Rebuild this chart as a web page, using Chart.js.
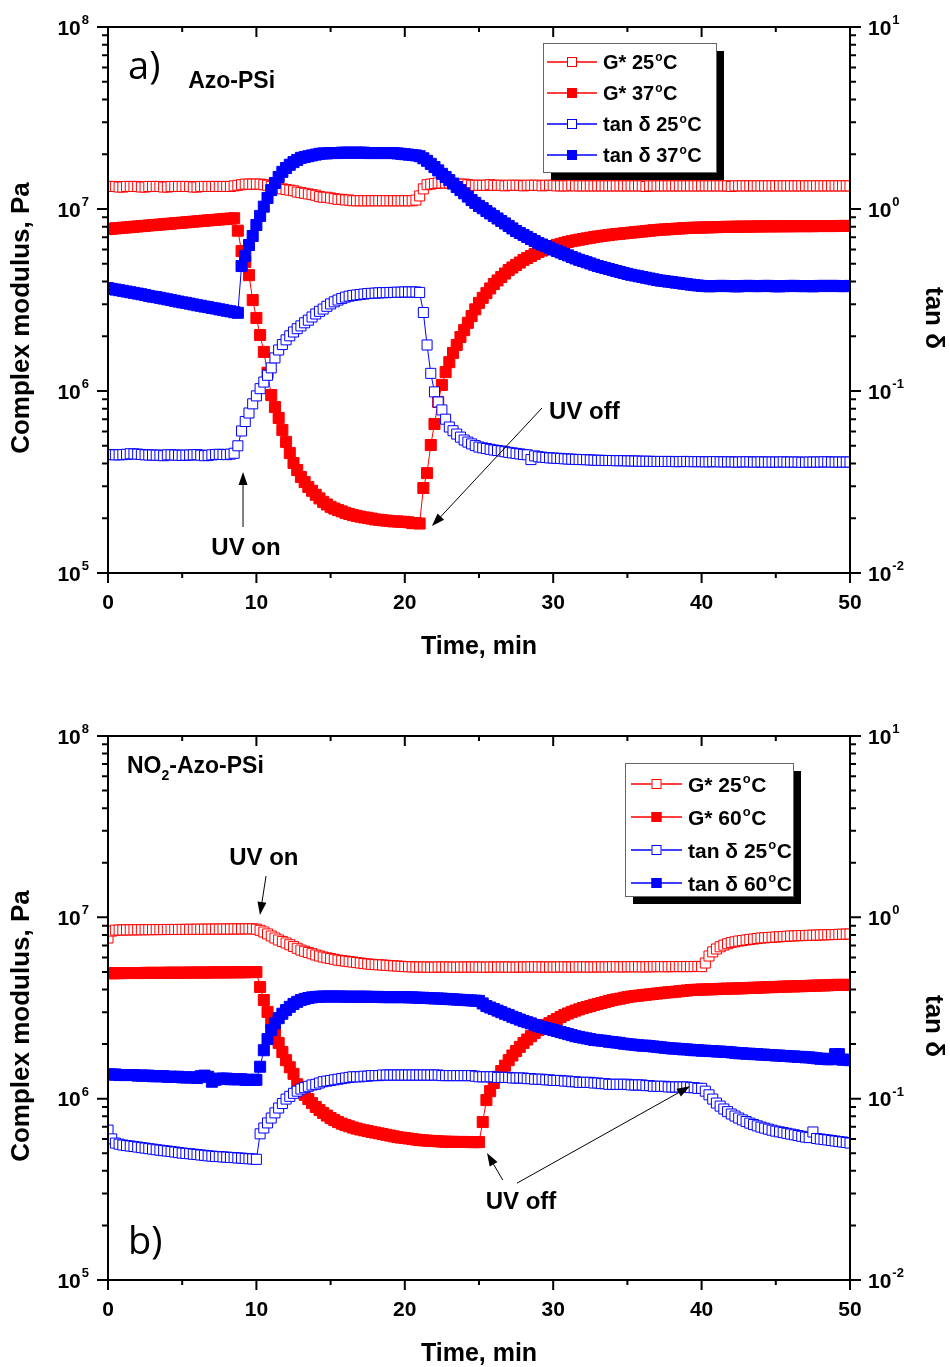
<!DOCTYPE html>
<html>
<head>
<meta charset="utf-8">
<script src="https://cdn.jsdelivr.net/npm/chart.js@4.4.1/dist/chart.umd.min.js"></script>
<style>
  body { margin: 0; background: #fff; }
  .panel { position: absolute; left: 0; width: 950px; }
</style>
</head>
<body>
<div class="panel" style="top:0;height:683px"><canvas id="chartA" width="950" height="683"></canvas></div>
<div class="panel" style="top:683px;height:684px"><canvas id="chartB" width="950" height="684"></canvas></div>
<script>
// time axis, min (one sample every 15 s, 20 per row)
const TIME = [
  0,0.25,0.5,0.75,1,1.25,1.5,1.75,2,2.25,2.5,2.75,3,3.25,3.5,3.75,4,4.25,4.5,4.75,
  5,5.25,5.5,5.75,6,6.25,6.5,6.75,7,7.25,7.5,7.75,8,8.25,8.5,8.75,9,9.25,9.5,9.75,
  10,10.25,10.5,10.75,11,11.25,11.5,11.75,12,12.25,12.5,12.75,13,13.25,13.5,13.75,14,14.25,14.5,14.75,
  15,15.25,15.5,15.75,16,16.25,16.5,16.75,17,17.25,17.5,17.75,18,18.25,18.5,18.75,19,19.25,19.5,19.75,
  20,20.25,20.5,20.75,21,21.25,21.5,21.75,22,22.25,22.5,22.75,23,23.25,23.5,23.75,24,24.25,24.5,24.75,
  25,25.25,25.5,25.75,26,26.25,26.5,26.75,27,27.25,27.5,27.75,28,28.25,28.5,28.75,29,29.25,29.5,29.75,
  30,30.25,30.5,30.75,31,31.25,31.5,31.75,32,32.25,32.5,32.75,33,33.25,33.5,33.75,34,34.25,34.5,34.75,
  35,35.25,35.5,35.75,36,36.25,36.5,36.75,37,37.25,37.5,37.75,38,38.25,38.5,38.75,39,39.25,39.5,39.75,
  40,40.25,40.5,40.75,41,41.25,41.5,41.75,42,42.25,42.5,42.75,43,43.25,43.5,43.75,44,44.25,44.5,44.75,
  45,45.25,45.5,45.75,46,46.25,46.5,46.75,47,47.25,47.5,47.75,48,48.25,48.5,48.75,49,49.25,49.5,49.75,
  50
];

// a) Azo-PSi, complex modulus (Pa)
const A_G25 = [
  1.33e7,1.33e7,1.33e7,1.32e7,1.32e7,1.33e7,1.33e7,1.33e7,1.33e7,1.32e7,1.32e7,1.33e7,1.33e7,1.33e7,1.33e7,1.32e7,1.32e7,1.33e7,1.33e7,1.33e7,
  1.33e7,1.33e7,1.33e7,1.32e7,1.32e7,1.33e7,1.33e7,1.33e7,1.33e7,1.33e7,1.33e7,1.33e7,1.33e7,1.33e7,1.34e7,1.35e7,1.36e7,1.37e7,1.37e7,1.37e7,
  1.37e7,1.37e7,1.36e7,1.35e7,1.33e7,1.32e7,1.30e7,1.29e7,1.28e7,1.27e7,1.26e7,1.24e7,1.23e7,1.22e7,1.21e7,1.20e7,1.19e7,1.17e7,1.16e7,1.16e7,
  1.15e7,1.14e7,1.13e7,1.13e7,1.12e7,1.12e7,1.11e7,1.11e7,1.11e7,1.11e7,1.11e7,1.11e7,1.11e7,1.11e7,1.11e7,1.11e7,1.11e7,1.11e7,1.11e7,1.11e7,
  1.11e7,1.11e7,1.11e7,1.12e7,1.18e7,1.29e7,1.36e7,1.37e7,1.38e7,1.39e7,1.39e7,1.39e7,1.39e7,1.38e7,1.37e7,1.37e7,1.37e7,1.36e7,1.35e7,1.35e7,
  1.35e7,1.35e7,1.35e7,1.36e7,1.35e7,1.35e7,1.35e7,1.34e7,1.35e7,1.35e7,1.35e7,1.35e7,1.34e7,1.35e7,1.35e7,1.35e7,1.35e7,1.34e7,1.35e7,1.35e7,
  1.35e7,1.34e7,1.34e7,1.34e7,1.34e7,1.35e7,1.34e7,1.34e7,1.34e7,1.34e7,1.34e7,1.34e7,1.34e7,1.34e7,1.34e7,1.34e7,1.34e7,1.34e7,1.34e7,1.34e7,
  1.34e7,1.34e7,1.34e7,1.34e7,1.34e7,1.33e7,1.34e7,1.34e7,1.34e7,1.34e7,1.34e7,1.34e7,1.34e7,1.34e7,1.34e7,1.34e7,1.34e7,1.34e7,1.34e7,1.34e7,
  1.34e7,1.34e7,1.34e7,1.34e7,1.34e7,1.34e7,1.34e7,1.34e7,1.33e7,1.34e7,1.34e7,1.34e7,1.34e7,1.34e7,1.34e7,1.34e7,1.34e7,1.34e7,1.34e7,1.34e7,
  1.34e7,1.34e7,1.34e7,1.34e7,1.34e7,1.34e7,1.34e7,1.34e7,1.34e7,1.34e7,1.34e7,1.34e7,1.34e7,1.34e7,1.34e7,1.34e7,1.34e7,1.34e7,1.34e7,1.34e7,
  1.34e7
];
const A_G37 = [
  7.76e6,7.79e6,7.83e6,7.86e6,7.89e6,7.92e6,7.95e6,7.99e6,8.02e6,8.05e6,8.08e6,8.12e6,8.15e6,8.18e6,8.21e6,8.25e6,8.28e6,8.31e6,8.35e6,8.38e6,
  8.41e6,8.45e6,8.48e6,8.52e6,8.55e6,8.59e6,8.62e6,8.66e6,8.69e6,8.72e6,8.76e6,8.79e6,8.83e6,8.86e6,8.90e6,7.60e6,5.87e6,5.12e6,4.33e6,3.16e6,
  2.52e6,2.03e6,1.64e6,1.26e6,9.5e5,8.17e5,7.11e5,6.11e5,5.25e5,4.56e5,4.02e5,3.68e5,3.37e5,3.16e5,2.97e5,2.83e5,2.69e5,2.57e5,2.46e5,2.38e5,
  2.31e5,2.26e5,2.22e5,2.18e5,2.14e5,2.11e5,2.08e5,2.06e5,2.04e5,2.02e5,2.01e5,1.99e5,1.97e5,1.96e5,1.95e5,1.94e5,1.93e5,1.92e5,1.92e5,1.91e5,
  1.91e5,1.90e5,1.88e5,1.88e5,1.87e5,2.93e5,3.54e5,5.05e5,6.59e5,8.71e5,1.08e6,1.27e6,1.44e6,1.62e6,1.79e6,1.98e6,2.16e6,2.37e6,2.58e6,2.81e6,
  3.05e6,3.25e6,3.45e6,3.66e6,3.87e6,4.05e6,4.23e6,4.42e6,4.62e6,4.77e6,4.92e6,5.08e6,5.25e6,5.38e6,5.52e6,5.66e6,5.80e6,5.91e6,6.03e6,6.14e6,
  6.26e6,6.35e6,6.43e6,6.51e6,6.59e6,6.66e6,6.72e6,6.78e6,6.84e6,6.90e6,6.95e6,7.01e6,7.06e6,7.11e6,7.15e6,7.20e6,7.24e6,7.28e6,7.31e6,7.35e6,
  7.38e6,7.42e6,7.45e6,7.49e6,7.52e6,7.56e6,7.60e6,7.64e6,7.67e6,7.70e6,7.72e6,7.74e6,7.76e6,7.79e6,7.81e6,7.84e6,7.86e6,7.88e6,7.89e6,7.90e6,
  7.91e6,7.92e6,7.93e6,7.94e6,7.95e6,7.96e6,7.97e6,7.98e6,7.98e6,7.99e6,8.00e6,8.00e6,8.00e6,8.01e6,8.01e6,8.02e6,8.02e6,8.03e6,8.03e6,8.03e6,
  8.03e6,8.04e6,8.04e6,8.04e6,8.04e6,8.05e6,8.05e6,8.05e6,8.05e6,8.05e6,8.05e6,8.06e6,8.06e6,8.06e6,8.06e6,8.06e6,8.06e6,8.07e6,8.07e6,8.07e6,
  8.07e6
];
// a) tan delta
const A_T25 = [
  0.0448,0.0447,0.0446,0.0446,0.0447,0.0449,0.0452,0.0451,0.0450,0.0448,0.0446,0.0445,0.0445,0.0444,0.0444,0.0441,0.0446,0.0446,0.0445,0.0444,
  0.0443,0.0444,0.0445,0.0446,0.0447,0.0444,0.0441,0.0443,0.0446,0.0448,0.0449,0.0448,0.0447,0.0450,0.0455,0.0500,0.0603,0.0680,0.0757,0.0850,
  0.094,0.103,0.112,0.122,0.134,0.152,0.168,0.180,0.191,0.201,0.211,0.220,0.228,0.237,0.245,0.255,0.265,0.274,0.282,0.292,
  0.301,0.309,0.316,0.322,0.328,0.332,0.335,0.337,0.339,0.341,0.343,0.344,0.345,0.346,0.347,0.347,0.348,0.348,0.349,0.349,
  0.350,0.350,0.350,0.350,0.348,0.270,0.179,0.125,0.0989,0.0870,0.0787,0.0700,0.0634,0.0605,0.0580,0.0558,0.0538,0.0524,0.0512,0.0501,
  0.0492,0.0487,0.0483,0.0478,0.0474,0.0471,0.0468,0.0464,0.0460,0.0457,0.0454,0.0451,0.0448,0.0446,0.0420,0.0440,0.0435,0.0433,0.0431,0.0429,
  0.0428,0.0427,0.0426,0.0424,0.0423,0.0422,0.0421,0.0420,0.0420,0.0419,0.0418,0.0417,0.0416,0.0416,0.0415,0.0415,0.0415,0.0414,0.0414,0.0414,
  0.0413,0.0413,0.0412,0.0412,0.0411,0.0411,0.0411,0.0410,0.0410,0.0410,0.0410,0.0410,0.0410,0.0409,0.0409,0.0410,0.0410,0.0409,0.0409,0.0409,
  0.0409,0.0408,0.0408,0.0409,0.0409,0.0408,0.0408,0.0408,0.0408,0.0407,0.0407,0.0408,0.0408,0.0408,0.0407,0.0407,0.0408,0.0407,0.0407,0.0407,
  0.0407,0.0407,0.0408,0.0407,0.0407,0.0407,0.0407,0.0406,0.0406,0.0407,0.0407,0.0407,0.0407,0.0408,0.0408,0.0407,0.0407,0.0407,0.0407,0.0407,
  0.0407
];
const A_T37 = [
  0.368,0.364,0.361,0.358,0.355,0.352,0.349,0.346,0.343,0.340,0.337,0.333,0.330,0.328,0.325,0.322,0.319,0.316,0.313,0.310,
  0.307,0.305,0.302,0.299,0.296,0.294,0.291,0.289,0.286,0.284,0.281,0.279,0.276,0.274,0.271,0.269,0.486,0.552,0.634,0.711,
  0.817,0.916,1.03,1.15,1.27,1.39,1.50,1.60,1.68,1.75,1.81,1.86,1.91,1.93,1.95,1.97,1.99,2.01,2.02,2.02,
  2.03,2.03,2.03,2.04,2.04,2.04,2.04,2.04,2.04,2.04,2.03,2.03,2.03,2.03,2.03,2.03,2.03,2.03,2.02,2.01,
  2.00,1.99,1.98,1.97,1.95,1.90,1.84,1.77,1.70,1.63,1.56,1.50,1.44,1.38,1.32,1.27,1.22,1.17,1.12,1.08,
  1.04,1.01,0.975,0.945,0.916,0.887,0.859,0.833,0.807,0.782,0.757,0.738,0.720,0.702,0.684,0.667,0.650,0.638,0.626,0.612,
  0.599,0.588,0.577,0.566,0.556,0.545,0.535,0.526,0.518,0.510,0.502,0.494,0.486,0.480,0.474,0.468,0.462,0.456,0.451,0.445,
  0.440,0.435,0.431,0.427,0.423,0.419,0.415,0.411,0.407,0.404,0.402,0.399,0.397,0.394,0.392,0.389,0.387,0.384,0.382,0.380,
  0.378,0.377,0.376,0.377,0.377,0.378,0.378,0.377,0.377,0.376,0.376,0.377,0.378,0.378,0.377,0.377,0.377,0.378,0.378,0.377,
  0.376,0.376,0.377,0.377,0.378,0.378,0.377,0.377,0.377,0.377,0.376,0.377,0.378,0.378,0.377,0.378,0.378,0.377,0.377,0.377,
  0.378
];

// b) NO2-Azo-PSi, complex modulus (Pa)
const B_G25 = [
  7.69e6,8.40e6,8.50e6,8.51e6,8.52e6,8.52e6,8.53e6,8.53e6,8.54e6,8.54e6,8.55e6,8.55e6,8.55e6,8.56e6,8.56e6,8.56e6,8.57e6,8.57e6,8.57e6,8.57e6,
  8.58e6,8.58e6,8.59e6,8.59e6,8.59e6,8.60e6,8.60e6,8.60e6,8.61e6,8.61e6,8.61e6,8.62e6,8.62e6,8.62e6,8.63e6,8.63e6,8.63e6,8.64e6,8.64e6,8.64e6,
  8.60e6,8.48e6,8.30e6,8.10e6,7.89e6,7.69e6,7.50e6,7.36e6,7.22e6,7.06e6,6.91e6,6.75e6,6.60e6,6.50e6,6.40e6,6.30e6,6.20e6,6.12e6,6.04e6,5.98e6,
  5.93e6,5.87e6,5.81e6,5.77e6,5.74e6,5.70e6,5.67e6,5.63e6,5.60e6,5.56e6,5.53e6,5.51e6,5.49e6,5.47e6,5.46e6,5.44e6,5.42e6,5.40e6,5.39e6,5.37e6,
  5.35e6,5.34e6,5.33e6,5.32e6,5.32e6,5.32e6,5.32e6,5.31e6,5.31e6,5.32e6,5.32e6,5.32e6,5.32e6,5.31e6,5.31e6,5.32e6,5.32e6,5.32e6,5.32e6,5.32e6,
  5.32e6,5.31e6,5.31e6,5.32e6,5.32e6,5.32e6,5.32e6,5.32e6,5.32e6,5.31e6,5.31e6,5.32e6,5.32e6,5.32e6,5.33e6,5.33e6,5.33e6,5.32e6,5.32e6,5.32e6,
  5.32e6,5.32e6,5.33e6,5.33e6,5.32e6,5.32e6,5.33e6,5.33e6,5.33e6,5.33e6,5.32e6,5.32e6,5.33e6,5.33e6,5.33e6,5.33e6,5.34e6,5.34e6,5.33e6,5.33e6,
  5.34e6,5.34e6,5.34e6,5.34e6,5.33e6,5.33e6,5.34e6,5.34e6,5.35e6,5.35e6,5.34e6,5.34e6,5.35e6,5.35e6,5.35e6,5.35e6,5.35e6,5.35e6,5.36e6,5.36e6,
  5.35e6,5.60e6,6.12e6,6.45e6,6.69e6,6.88e6,7.03e6,7.15e6,7.26e6,7.33e6,7.40e6,7.45e6,7.50e6,7.55e6,7.59e6,7.64e6,7.69e6,7.71e6,7.74e6,7.76e6,
  7.79e6,7.81e6,7.84e6,7.86e6,7.89e6,7.90e6,7.92e6,7.93e6,7.94e6,7.96e6,7.97e6,7.98e6,7.99e6,8.01e6,8.02e6,8.03e6,8.04e6,8.06e6,8.07e6,8.08e6,
  8.09e6
];
const B_G60 = [
  4.92e6,4.92e6,4.92e6,4.92e6,4.93e6,4.93e6,4.93e6,4.93e6,4.93e6,4.93e6,4.94e6,4.94e6,4.94e6,4.94e6,4.94e6,4.94e6,4.95e6,4.95e6,4.95e6,4.95e6,
  4.95e6,4.95e6,4.96e6,4.96e6,4.96e6,4.96e6,4.96e6,4.96e6,4.97e6,4.97e6,4.97e6,4.97e6,4.97e6,4.97e6,4.98e6,4.98e6,4.98e6,4.98e6,4.99e6,4.99e6,
  4.99e6,4.13e6,3.50e6,3.01e6,2.61e6,2.30e6,2.03e6,1.81e6,1.63e6,1.49e6,1.37e6,1.20e6,1.10e6,1.05e6,9.95e5,9.45e5,9.00e5,8.65e5,8.34e5,8.07e5,
  7.82e5,7.62e5,7.43e5,7.28e5,7.15e5,7.04e5,6.93e5,6.84e5,6.76e5,6.69e5,6.63e5,6.56e5,6.50e5,6.44e5,6.38e5,6.32e5,6.26e5,6.20e5,6.14e5,6.10e5,
  6.07e5,6.03e5,5.99e5,5.95e5,5.91e5,5.89e5,5.87e5,5.85e5,5.84e5,5.82e5,5.80e5,5.79e5,5.78e5,5.78e5,5.77e5,5.77e5,5.77e5,5.77e5,5.76e5,5.76e5,
  5.76e5,7.43e5,9.82e5,1.10e6,1.22e6,1.32e6,1.42e6,1.52e6,1.63e6,1.73e6,1.83e6,1.93e6,2.03e6,2.12e6,2.21e6,2.30e6,2.39e6,2.47e6,2.55e6,2.61e6,
  2.68e6,2.75e6,2.82e6,2.89e6,2.95e6,3.01e6,3.06e6,3.11e6,3.16e6,3.20e6,3.24e6,3.29e6,3.33e6,3.37e6,3.41e6,3.46e6,3.50e6,3.53e6,3.56e6,3.60e6,
  3.63e6,3.66e6,3.68e6,3.70e6,3.72e6,3.74e6,3.76e6,3.78e6,3.80e6,3.82e6,3.84e6,3.86e6,3.87e6,3.89e6,3.91e6,3.93e6,3.95e6,3.97e6,3.98e6,3.99e6,
  4.00e6,4.00e6,4.01e6,4.01e6,4.02e6,4.03e6,4.04e6,4.04e6,4.05e6,4.05e6,4.06e6,4.06e6,4.07e6,4.08e6,4.09e6,4.09e6,4.10e6,4.11e6,4.12e6,4.12e6,
  4.13e6,4.14e6,4.15e6,4.15e6,4.16e6,4.16e6,4.17e6,4.17e6,4.18e6,4.19e6,4.20e6,4.20e6,4.21e6,4.21e6,4.22e6,4.23e6,4.24e6,4.24e6,4.24e6,4.24e6,
  4.24e6
];
// b) tan delta
const B_T25 = [
  0.0671,0.0600,0.0569,0.0561,0.0555,0.0551,0.0548,0.0545,0.0541,0.0537,0.0534,0.0530,0.0527,0.0523,0.0520,0.0517,0.0514,0.0511,0.0508,0.0504,
  0.0501,0.0499,0.0497,0.0494,0.0492,0.0489,0.0487,0.0484,0.0482,0.0480,0.0479,0.0477,0.0476,0.0474,0.0473,0.0471,0.0470,0.0468,0.0466,0.0465,
  0.0463,0.0640,0.0689,0.0735,0.0782,0.0835,0.0888,0.0940,0.0995,0.103,0.107,0.110,0.113,0.115,0.117,0.119,0.120,0.122,0.124,0.125,
  0.126,0.127,0.128,0.129,0.130,0.131,0.132,0.132,0.132,0.133,0.133,0.134,0.134,0.134,0.135,0.135,0.135,0.135,0.135,0.135,
  0.135,0.135,0.135,0.135,0.135,0.135,0.135,0.135,0.135,0.135,0.134,0.134,0.134,0.134,0.134,0.134,0.134,0.134,0.134,0.133,
  0.132,0.132,0.132,0.132,0.132,0.131,0.131,0.131,0.131,0.130,0.130,0.130,0.130,0.129,0.129,0.128,0.128,0.128,0.127,0.127,
  0.126,0.126,0.126,0.125,0.125,0.124,0.124,0.123,0.123,0.123,0.123,0.122,0.122,0.121,0.121,0.120,0.120,0.120,0.120,0.120,
  0.120,0.119,0.119,0.119,0.119,0.118,0.118,0.117,0.117,0.117,0.117,0.116,0.116,0.116,0.116,0.116,0.116,0.115,0.115,0.114,
  0.114,0.110,0.105,0.0995,0.0946,0.0910,0.0877,0.0848,0.0823,0.0802,0.0782,0.0764,0.0748,0.0733,0.0720,0.0708,0.0697,0.0688,0.0679,0.0670,
  0.0662,0.0656,0.0650,0.0644,0.0638,0.0632,0.0626,0.0620,0.0614,0.0610,0.0655,0.0603,0.0599,0.0595,0.0592,0.0588,0.0584,0.0580,0.0577,0.0573,
  0.0569
];
const B_T60 = [
  0.136,0.136,0.136,0.135,0.135,0.135,0.135,0.135,0.134,0.134,0.134,0.134,0.133,0.133,0.133,0.133,0.132,0.132,0.132,0.132,
  0.131,0.131,0.131,0.131,0.130,0.133,0.134,0.132,0.124,0.127,0.129,0.129,0.129,0.128,0.128,0.128,0.128,0.127,0.127,0.127,
  0.127,0.150,0.185,0.213,0.239,0.260,0.278,0.294,0.308,0.321,0.333,0.342,0.350,0.355,0.359,0.362,0.364,0.365,0.366,0.366,
  0.366,0.366,0.366,0.366,0.365,0.365,0.365,0.365,0.365,0.365,0.365,0.364,0.364,0.364,0.363,0.363,0.363,0.363,0.363,0.363,
  0.363,0.362,0.362,0.361,0.360,0.360,0.359,0.358,0.357,0.357,0.356,0.355,0.354,0.353,0.352,0.351,0.350,0.349,0.348,0.347,
  0.346,0.335,0.324,0.318,0.312,0.306,0.300,0.294,0.289,0.283,0.278,0.273,0.268,0.264,0.260,0.255,0.251,0.248,0.245,0.242,
  0.239,0.236,0.233,0.230,0.227,0.224,0.221,0.219,0.217,0.215,0.213,0.211,0.210,0.209,0.208,0.206,0.205,0.204,0.203,0.201,
  0.200,0.199,0.198,0.197,0.196,0.196,0.195,0.194,0.193,0.192,0.191,0.190,0.189,0.189,0.188,0.187,0.187,0.186,0.185,0.185,
  0.184,0.184,0.183,0.183,0.182,0.182,0.181,0.181,0.180,0.179,0.178,0.178,0.177,0.177,0.176,0.176,0.175,0.175,0.174,0.174,
  0.173,0.173,0.172,0.172,0.171,0.171,0.170,0.170,0.169,0.169,0.168,0.167,0.166,0.166,0.165,0.165,0.176,0.176,0.164,0.164,
  0.163
];

// axis ticks
const X_MAJOR = [0, 10, 20, 30, 40, 50];
const X_MINOR = [5, 15, 25, 35, 45];
const G_DECADES = [5, 6, 7, 8];     // left axis, 10^n Pa
const T_DECADES = [-2, -1, 0, 1];   // right axis, 10^n

const RED = '#ff0000';
const BLUE = '#0000ff';
const FONT = '"Liberation Sans", Arial, Helvetica, sans-serif';

function drawPow(ctx, x, y, exp, alignRight) {
  ctx.font = 'bold 21px ' + FONT;
  const w1 = ctx.measureText('10').width;
  ctx.font = 'bold 13px ' + FONT;
  const w2 = ctx.measureText(exp).width;
  const x0 = alignRight ? x - (w1 + w2 + 1) : x;
  ctx.textAlign = 'left';
  ctx.textBaseline = 'alphabetic';
  ctx.font = 'bold 21px ' + FONT;
  ctx.fillText('10', x0, y + 7.5);
  ctx.font = 'bold 13px ' + FONT;
  ctx.fillText(exp, x0 + w1 + 1, y - 3);
}

function drawDegLabel(ctx, text, x, y, size) {
  const parts = text.split('°');
  ctx.textAlign = 'left';
  ctx.textBaseline = 'alphabetic';
  const base = y + size * 0.36;
  ctx.font = 'bold ' + size + 'px ' + FONT;
  ctx.fillText(parts[0], x, base);
  let cx = x + ctx.measureText(parts[0]).width + 1;
  ctx.font = 'bold ' + Math.round(size * 0.62) + 'px ' + FONT;
  ctx.fillText('o', cx, base - size * 0.43);
  cx += ctx.measureText('o').width + 0.5;
  ctx.font = 'bold ' + size + 'px ' + FONT;
  ctx.fillText(parts[1], cx, base);
}

function arrow(ctx, x1, y1, x2, y2) {
  const ang = Math.atan2(y2 - y1, x2 - x1);
  const L = 13, W = 4.5;
  const c = Math.cos(ang), s = Math.sin(ang);
  ctx.beginPath();
  ctx.moveTo(x1, y1);
  ctx.lineTo(x2 - L * 0.8 * c, y2 - L * 0.8 * s);
  ctx.stroke();
  ctx.beginPath();
  ctx.moveTo(x2, y2);
  ctx.lineTo(x2 - L * c + W * s, y2 - L * s - W * c);
  ctx.lineTo(x2 - L * c - W * s, y2 - L * s + W * c);
  ctx.closePath();
  ctx.fill();
}

function framePlugin(cfg) {
  return {
    id: 'originFrame',
    afterDraw(chart) {
      const { ctx, chartArea: a, scales } = chart;
      const xs = scales.x, yl = scales.y, yr = scales.y1;
      ctx.save();
      ctx.strokeStyle = '#000';
      ctx.fillStyle = '#000';
      ctx.lineWidth = 2;
      ctx.strokeRect(a.left, a.top, a.right - a.left, a.bottom - a.top);

      // ticks: x in/out, y outward
      ctx.beginPath();
      X_MAJOR.forEach(v => {
        const px = xs.getPixelForValue(v);
        ctx.moveTo(px, a.bottom); ctx.lineTo(px, a.bottom + 10);
        ctx.moveTo(px, a.top); ctx.lineTo(px, a.top + 10);
      });
      X_MINOR.forEach(v => {
        const px = xs.getPixelForValue(v);
        ctx.moveTo(px, a.bottom); ctx.lineTo(px, a.bottom + 5);
        ctx.moveTo(px, a.top); ctx.lineTo(px, a.top + 5);
      });
      G_DECADES.forEach((e, i) => {
        const py = yl.getPixelForValue(Math.pow(10, e));
        ctx.moveTo(a.left - 11, py); ctx.lineTo(a.left, py);
        if (i < G_DECADES.length - 1) {
          for (let k = 2; k <= 9; k++) {
            const q = yl.getPixelForValue(k * Math.pow(10, e));
            ctx.moveTo(a.left - 6, q); ctx.lineTo(a.left, q);
          }
        }
      });
      T_DECADES.forEach((e, i) => {
        const py = yr.getPixelForValue(Math.pow(10, e));
        ctx.moveTo(a.right, py); ctx.lineTo(a.right + 11, py);
        if (i < T_DECADES.length - 1) {
          for (let k = 2; k <= 9; k++) {
            const q = yr.getPixelForValue(k * Math.pow(10, e));
            ctx.moveTo(a.right, q); ctx.lineTo(a.right + 6, q);
          }
        }
      });
      ctx.stroke();

      // tick labels
      G_DECADES.forEach(e => drawPow(ctx, a.left - 19, yl.getPixelForValue(Math.pow(10, e)), String(e), true));
      T_DECADES.forEach(e => drawPow(ctx, a.right + 18, yr.getPixelForValue(Math.pow(10, e)), String(e), false));
      ctx.font = 'bold 21px ' + FONT;
      ctx.textAlign = 'center';
      ctx.textBaseline = 'alphabetic';
      X_MAJOR.forEach(v => ctx.fillText(String(v), xs.getPixelForValue(v), a.bottom + 35.5));

      // axis titles
      const midY = (a.top + a.bottom) / 2 + 18;
      ctx.textBaseline = 'middle';
      ctx.font = 'bold 25px ' + FONT;
      ctx.fillText('Time, min', (a.left + a.right) / 2, a.bottom + 74);
      ctx.font = 'bold 26px ' + FONT;
      ctx.save();
      ctx.translate(22, midY);
      ctx.rotate(-Math.PI / 2);
      ctx.fillText('Complex modulus, Pa', 0, 0);
      ctx.restore();
      ctx.save();
      ctx.translate(933, midY);
      ctx.rotate(Math.PI / 2);
      ctx.fillText('tan δ', 0, 0);
      ctx.restore();

      // annotations
      ctx.lineWidth = 1;
      cfg.arrows.forEach(r => arrow(ctx,
        xs.getPixelForValue(r.x1), yl.getPixelForValue(r.y1),
        xs.getPixelForValue(r.x2), yl.getPixelForValue(r.y2)));
      ctx.font = 'bold 24px ' + FONT;
      ctx.textAlign = 'center';
      ctx.textBaseline = 'middle';
      cfg.notes.forEach(n => ctx.fillText(n.t, xs.getPixelForValue(n.x), yl.getPixelForValue(n.y)));

      ctx.textAlign = 'left';
      ctx.font = '38px "Open Sans", "Noto Sans", sans-serif';
      ctx.fillText(cfg.tag.t, xs.getPixelForValue(cfg.tag.x), yl.getPixelForValue(cfg.tag.y));

      const nx = xs.getPixelForValue(cfg.name.x), ny = yl.getPixelForValue(cfg.name.y);
      ctx.font = 'bold 23px ' + FONT;
      ctx.fillText(cfg.name.pre, nx, ny);
      if (cfg.name.sub) {
        let cx = nx + ctx.measureText(cfg.name.pre).width;
        ctx.font = 'bold 14px ' + FONT;
        ctx.fillText(cfg.name.sub, cx, ny + 9);
        cx += ctx.measureText(cfg.name.sub).width;
        ctx.font = 'bold 23px ' + FONT;
        ctx.fillText(cfg.name.post, cx, ny);
      }

      // legend box with drop shadow
      const lg = cfg.legend;
      const x0 = a.left + lg.dx, y0 = a.top + lg.dy;
      ctx.fillStyle = '#000';
      ctx.fillRect(x0 + 8, y0 + 8, lg.w, lg.h);
      ctx.fillStyle = '#fff';
      ctx.fillRect(x0, y0, lg.w, lg.h);
      ctx.strokeStyle = '#666';
      ctx.strokeRect(x0 + 0.5, y0 + 0.5, lg.w, lg.h);
      cfg.series.forEach((s, i) => {
        const y = y0 + lg.row0 + i * lg.gap;
        ctx.strokeStyle = s.color;
        ctx.lineWidth = 1.5;
        ctx.beginPath();
        ctx.moveTo(x0 + lg.lineL, y); ctx.lineTo(x0 + lg.lineR, y);
        ctx.stroke();
        const mx = x0 + (lg.lineL + lg.lineR) / 2;
        ctx.fillStyle = s.filled ? s.color : '#fff';
        ctx.fillRect(mx - 5, y - 5, 10, 10);
        ctx.lineWidth = 1;
        ctx.strokeRect(mx - 4.5, y - 4.5, 9, 9);
        ctx.fillStyle = '#000';
        drawDegLabel(ctx, s.label, x0 + lg.text, y, lg.size);
      });
      ctx.restore();
    }
  };
}

function buildChart(id, cfg) {
  const datasets = cfg.series.map(s => ({
    label: s.label,
    data: TIME.map((t, i) => ({ x: t, y: s.values[i] })),
    yAxisID: s.axis,
    order: s.order,
    borderColor: s.color,
    borderWidth: 1,
    pointStyle: 'rect',
    pointRadius: s.filled ? 7.8 : 7.1,
    pointBorderWidth: 1,
    pointBorderColor: s.color,
    pointBackgroundColor: s.filled ? s.color : '#ffffff',
    tension: 0,
    fill: false
  }));
  const hide = { ticks: { display: false }, grid: { display: false }, border: { display: false } };
  new Chart(document.getElementById(id), {
    type: 'line',
    data: { datasets },
    options: {
      responsive: false,
      animation: false,
      events: [],
      devicePixelRatio: 1,
      layout: { padding: { top: cfg.padTop, left: 0, right: 0, bottom: 0 } },
      plugins: { legend: { display: false }, tooltip: { enabled: false } },
      scales: {
        x: Object.assign({ type: 'linear', min: 0, max: 50, afterFit: s => { s.height = cfg.xHeight; } }, hide),
        y: Object.assign({ type: 'logarithmic', position: 'left', min: 1e5, max: 1e8, afterFit: s => { s.width = 108; } }, hide),
        y1: Object.assign({ type: 'logarithmic', position: 'right', min: 0.01, max: 10, afterFit: s => { s.width = 100; } }, hide)
      }
    },
    plugins: [framePlugin(cfg)]
  });
}

buildChart('chartA', {
  padTop: 27, xHeight: 110,
  series: [
    { label: 'G* 25°C', values: A_G25, axis: 'y', color: RED, filled: false, order: 3 },
    { label: 'G* 37°C', values: A_G37, axis: 'y', color: RED, filled: true, order: 2 },
    { label: 'tan δ 25°C', values: A_T25, axis: 'y1', color: BLUE, filled: false, order: 1 },
    { label: 'tan δ 37°C', values: A_T37, axis: 'y1', color: BLUE, filled: true, order: 0 }
  ],
  legend: { dx: 435, dy: 16, w: 173, h: 129, row0: 19, gap: 31, lineL: 4, lineR: 54, text: 60, size: 20 },
  arrows: [
    { x1: 9.1, y1: 1.79e5, x2: 9.1, y2: 3.59e5 },
    { x1: 29.25, y1: 8.07e5, x2: 21.83, y2: 1.81e5 }
  ],
  notes: [
    { t: 'UV on', x: 9.3, y: 1.36e5 },
    { t: 'UV off', x: 32.1, y: 7.67e5 }
  ],
  tag: { t: 'a)', x: 1.35, y: 5.96e7 },
  name: { pre: 'Azo-PSi', x: 5.4, y: 4.99e7 }
});

buildChart('chartB', {
  padTop: 53, xHeight: 87,
  series: [
    { label: 'G* 25°C', values: B_G25, axis: 'y', color: RED, filled: false, order: 3 },
    { label: 'G* 60°C', values: B_G60, axis: 'y', color: RED, filled: true, order: 2 },
    { label: 'tan δ 25°C', values: B_T25, axis: 'y1', color: BLUE, filled: false, order: 1 },
    { label: 'tan δ 60°C', values: B_T60, axis: 'y1', color: BLUE, filled: true, order: 0 }
  ],
  legend: { dx: 517, dy: 27, w: 168, h: 133, row0: 21, gap: 33, lineL: 6, lineR: 57, text: 63, size: 21 },
  arrows: [
    { x1: 10.65, y1: 1.69e7, x2: 10.24, y2: 1.03e7 },
    { x1: 26.6, y1: 3.56e5, x2: 25.54, y2: 5.01e5 },
    { x1: 27.56, y1: 3.42e5, x2: 39.22, y2: 1.17e6 }
  ],
  notes: [
    { t: 'UV on', x: 10.5, y: 2.12e7 },
    { t: 'UV off', x: 27.83, y: 2.69e5 }
  ],
  tag: { t: 'b)', x: 1.35, y: 1.60e5 },
  name: { pre: 'NO', sub: '2', post: '-Azo-PSi', x: 1.28, y: 6.75e7 }
});
</script>
</body>
</html>
